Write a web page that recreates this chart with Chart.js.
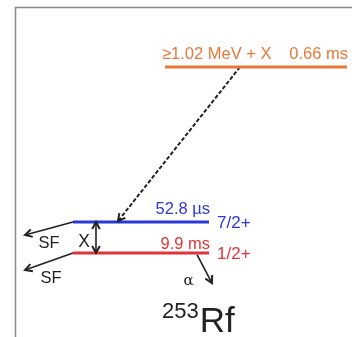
<!DOCTYPE html>
<html>
<head>
<meta charset="utf-8">
<script src="https://cdn.jsdelivr.net/npm/chart.js@4.4.0/dist/chart.umd.min.js"></script>
<style>
  body { margin: 0; background: #fff; }
  canvas { display: block; }
</style>
</head>
<body>
<canvas id="scheme" width="352" height="337"></canvas>
<script>
// level data (energy in diagram units, x extent in diagram units)
const levelNames = ['ground', 'isomer', 'high'];
const levelEnergy = [0, 1, 6.0];
const levelXStart = [73, 73, 165];
const levelXEnd = [209, 209, 347];
const halfLives = ['9.9 ms', '52.8 \u00b5s', '0.66 ms'];
const spins = ['1/2+', '7/2+', ''];
const highLabel = '\u22651.02 MeV + X';
const nucleusMass = '253';
const nucleusName = 'Rf';

// transitions: [x0, e0, x1, e1]
const feedArrow = [240, 6.0, 118, 1.03];
const sfIsomer = [73, 1, 25, 0.58];
const sfGround = [73, 0, 25, -0.55];
const alphaArrow = [197, -0.05, 212, -0.97];
const xGap = [96, 1, 96, 0];

const levelColors = ['#e0343a', '#2a36d6', '#e8783a'];

function seg(a) {
  return [{ x: a[0], y: a[1] }, { x: a[2], y: a[3] }];
}

const datasets = [];
levelNames.forEach((n, i) => {
  datasets.push({
    label: n,
    data: [{ x: levelXStart[i], y: levelEnergy[i] }, { x: levelXEnd[i], y: levelEnergy[i] }],
    borderColor: levelColors[i],
    borderWidth: 3,
    showLine: true,
    pointRadius: 0
  });
});
datasets.push({ label: 'feed', data: seg(feedArrow), borderColor: '#222', borderWidth: 2, borderDash: [4, 2], showLine: true, pointRadius: 0, arrow: 'end' });
datasets.push({ label: 'sf1', data: seg(sfIsomer), borderColor: '#222', borderWidth: 1.6, showLine: true, pointRadius: 0, arrow: 'end' });
datasets.push({ label: 'sf2', data: seg(sfGround), borderColor: '#222', borderWidth: 1.6, showLine: true, pointRadius: 0, arrow: 'end' });
datasets.push({ label: 'alpha', data: seg(alphaArrow), borderColor: '#222', borderWidth: 1.6, showLine: true, pointRadius: 0, arrow: 'end' });
datasets.push({ label: 'gap', data: seg(xGap), borderColor: '#222', borderWidth: 1.6, showLine: true, pointRadius: 0, arrow: 'both' });

function head(ctx, x0, y0, x1, y1, color) {
  const a = Math.atan2(y1 - y0, x1 - x0);
  const len = 8;
  ctx.save();
  ctx.strokeStyle = color;
  ctx.lineWidth = 2;
  ctx.setLineDash([]);
  ctx.beginPath();
  ctx.moveTo(x1 - len * Math.cos(a - 0.5), y1 - len * Math.sin(a - 0.5));
  ctx.lineTo(x1, y1);
  ctx.lineTo(x1 - len * Math.cos(a + 0.5), y1 - len * Math.sin(a + 0.5));
  ctx.stroke();
  ctx.restore();
}

const decor = {
  id: 'decor',
  beforeDraw(chart) {
    const ctx = chart.ctx;
    ctx.save();
    ctx.strokeStyle = '#8a8a8a';
    ctx.lineWidth = 1.5;
    ctx.beginPath();
    ctx.moveTo(15.5, 337);
    ctx.lineTo(15.5, 7.5);
    ctx.lineTo(352, 7.5);
    ctx.stroke();
    ctx.restore();
  },
  afterDraw(chart) {
    const ctx = chart.ctx;
    const xs = chart.scales.x, ys = chart.scales.y;
    chart.data.datasets.forEach(ds => {
      if (!ds.arrow) return;
      const p0 = { x: xs.getPixelForValue(ds.data[0].x), y: ys.getPixelForValue(ds.data[0].y) };
      const p1 = { x: xs.getPixelForValue(ds.data[1].x), y: ys.getPixelForValue(ds.data[1].y) };
      head(ctx, p0.x, p0.y, p1.x, p1.y, '#222');
      if (ds.arrow === 'both') head(ctx, p1.x, p1.y, p0.x, p0.y, '#222');
    });

    ctx.save();
    ctx.textBaseline = 'alphabetic';
    const sans = '"Liberation Sans", Arial, sans-serif';
    const lift = [4, 8, 8];
    levelNames.forEach((n, i) => {
      const y = ys.getPixelForValue(levelEnergy[i]);
      const xe = xs.getPixelForValue(levelXEnd[i]);
      ctx.fillStyle = levelColors[i];
      ctx.font = '16.5px ' + sans;
      ctx.textAlign = 'right';
      ctx.fillText(halfLives[i], xe + 1, y - lift[i]);
      if (spins[i]) {
        ctx.font = '17px ' + sans;
        ctx.textAlign = 'left';
        ctx.fillText(spins[i], xe + 8, y + 6);
      }
    });
    const hi = 2;
    ctx.fillStyle = levelColors[hi];
    ctx.textAlign = 'left';
    ctx.font = '16.5px ' + sans;
    ctx.fillText(highLabel, xs.getPixelForValue(levelXStart[hi]) - 3, ys.getPixelForValue(levelEnergy[hi]) - 8);

    ctx.fillStyle = '#222';
    ctx.textAlign = 'center';
    ctx.font = '16.5px ' + sans;
    ctx.fillText('SF', xs.getPixelForValue(49), ys.getPixelForValue(0.16));
    ctx.fillText('SF', xs.getPixelForValue(51), ys.getPixelForValue(-0.97));
    ctx.font = '17.5px ' + sans;
    ctx.fillText('X', xs.getPixelForValue(84), ys.getPixelForValue(0.19));
    ctx.font = '15px "DejaVu Serif", serif';
    ctx.fillText('\u03b1', xs.getPixelForValue(188.5), ys.getPixelForValue(-1.02));

    ctx.textAlign = 'left';
    ctx.font = '22px ' + sans;
    const bx = 162, by = ys.getPixelForValue(-2.55);
    ctx.fillText(nucleusMass, bx, by - 14);
    const w = ctx.measureText(nucleusMass).width;
    ctx.font = '35px ' + sans;
    ctx.fillText(nucleusName, bx + w + 1, by);
    ctx.restore();
  }
};

new Chart(document.getElementById('scheme'), {
  type: 'scatter',
  data: { datasets: datasets },
  options: {
    responsive: false,
    animation: false,
    events: [],
    layout: { padding: 0 },
    plugins: { legend: { display: false }, tooltip: { enabled: false } },
    scales: {
      x: { type: 'linear', min: 0, max: 352, display: false },
      y: { type: 'linear', min: -2.71, max: 8.161, display: false }
    }
  },
  plugins: [decor]
});
</script>
</body>
</html>
